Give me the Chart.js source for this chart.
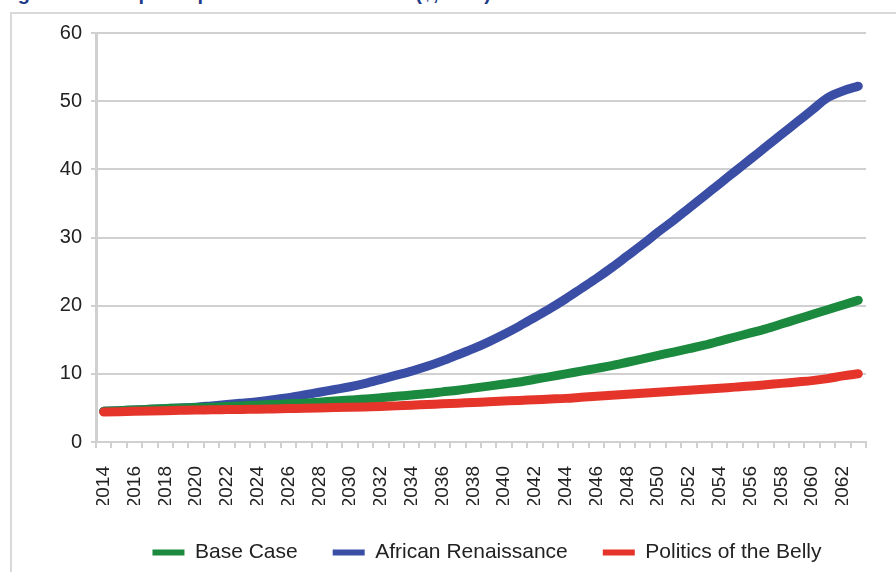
<!DOCTYPE html>
<html>
<head>
<meta charset="utf-8">
<script src="https://cdn.jsdelivr.net/npm/chart.js@4.4.0/dist/chart.umd.min.js"></script>
<style>
  html, body { margin: 0; padding: 0; background: #fff; overflow: hidden; }
  #page { position: relative; width: 896px; height: 572px; overflow: hidden; }
  #title {
    position: absolute; left: 0; top: -17px; white-space: nowrap;
    font: bold 20px/20px "Liberation Sans", Arial, sans-serif; color: #1f3c88;
  }
  #frame {
    position: absolute; left: 10px; top: 12px; width: 920px; height: 600px;
    border: 2px solid #d9d9d9;
  }
  #chart { position: absolute; left: 0; top: 0; }
</style>
</head>
<body>
<div id="page">
  <div id="title">Figure 9: GDP per capita in three scenarios ($, PPP)</div>
  <div id="frame"></div>
  <canvas id="chart" width="964" height="572"></canvas>
</div>
<script>
// years 2014..2063
var years = [];
for (var y = 2014; y <= 2063; y++) years.push(String(y));

var baseCase = [4.5, 4.6, 4.7, 4.8, 4.9, 5.0, 5.05, 5.1, 5.2, 5.3,
  5.4, 5.5, 5.6, 5.7, 5.85, 6.0, 6.15, 6.3, 6.5, 6.7,
  6.9, 7.1, 7.35, 7.6, 7.9, 8.2, 8.5, 8.8, 9.2, 9.6,
  10.0, 10.4, 10.8, 11.2, 11.7, 12.2, 12.7, 13.2, 13.7, 14.2,
  14.8, 15.4, 16.0, 16.6, 17.3, 18.0, 18.7, 19.4, 20.1, 20.8];

var africanRenaissance = [4.5, 4.6, 4.7, 4.8, 4.9, 5.0, 5.1, 5.3, 5.5, 5.7,
  5.9, 6.2, 6.5, 6.9, 7.3, 7.7, 8.1, 8.6, 9.2, 9.8,
  10.4, 11.1, 11.9, 12.8, 13.7, 14.7, 15.8, 17.0, 18.3, 19.6,
  21.0, 22.5, 24.0, 25.6, 27.3, 29.0, 30.8, 32.5, 34.3, 36.1,
  37.9, 39.7, 41.5, 43.3, 45.1, 46.9, 48.7, 50.5, 51.5, 52.2];

var politicsBelly = [4.4, 4.45, 4.5, 4.55, 4.6, 4.65, 4.7, 4.72, 4.75, 4.78,
  4.8, 4.85, 4.9, 4.95, 5.0, 5.05, 5.1, 5.15, 5.2, 5.3,
  5.4, 5.5, 5.6, 5.7, 5.8, 5.9, 6.0, 6.1, 6.2, 6.3,
  6.4, 6.55, 6.7, 6.85, 7.0, 7.15, 7.3, 7.45, 7.6, 7.75,
  7.9, 8.05, 8.2, 8.4, 8.6, 8.8, 9.0, 9.3, 9.7, 10.0];

var yTicks = [0, 10, 20, 30, 40, 50, 60];

var fontFamily = '"Liberation Sans", Arial, sans-serif';
var gridGrey = '#d0d0d0';

function series(label, data, color, order) {
    return {
        label: label,
        data: data,
        borderColor: color,
        backgroundColor: color,
        borderWidth: 9,
        borderCapStyle: 'round',
        borderJoinStyle: 'round',
        pointRadius: 0,
        tension: 0.4,
        cubicInterpolationMode: 'monotone',
        order: order
    };
}

// nudge the legend right, it sits off-centre in the original
var legendShift = {
    id: 'legendShift',
    afterLayout: function (chart) {
        chart.legend.left += 54;
        chart.legend.right += 54;
        chart.legend.top += 2;
        chart.legend.bottom += 2;
    }
};

new Chart(document.getElementById('chart'), {
    type: 'line',
    data: {
        labels: years,
        datasets: [
            series('Base Case', baseCase, '#1b8a3e', 1),
            series('African Renaissance', africanRenaissance, '#3a4ea6', 2),
            series('Politics of the Belly', politicsBelly, '#e5352a', 0)
        ]
    },
    plugins: [legendShift],
    options: {
        responsive: false,
        animation: false,
        layout: { padding: { left: 0, right: 98, top: 33, bottom: 1 } },
        plugins: {
            tooltip: { enabled: false },
            legend: {
                position: 'bottom',
                labels: {
                    boxWidth: 32,
                    boxHeight: 6,
                    padding: 35,
                    color: '#222',
                    font: { family: fontFamily, size: 21 },
                    sort: function (a, b) { return a.datasetIndex - b.datasetIndex; },
                    generateLabels: function (chart) {
                        return Chart.defaults.plugins.legend.labels.generateLabels(chart).map(function (l) {
                            l.lineWidth = 0;
                            return l;
                        });
                    }
                }
            }
        },
        scales: {
            x: {
                offset: true,
                afterFit: function (scale) { scale.height = 63; },
                grid: {
                    display: true,
                    offset: true,
                    drawOnChartArea: false,
                    drawTicks: true,
                    tickLength: 6,
                    color: gridGrey,
                    lineWidth: 2
                },
                border: { color: gridGrey, width: 2 },
                ticks: {
                    autoSkip: false,
                    maxRotation: 90,
                    minRotation: 90,
                    padding: 18,
                    color: '#222',
                    font: { family: fontFamily, size: 19 },
                    callback: function (v, i) {
                        var yr = years[i];
                        return (Number(yr) % 2 === 0) ? yr : '';
                    }
                }
            },
            y: {
                min: 0,
                max: 60,
                afterFit: function (scale) { scale.width = 96; },
                afterBuildTicks: function (scale) {
                    scale.ticks = yTicks.map(function (v) { return { value: v }; });
                },
                grid: {
                    color: gridGrey,
                    lineWidth: 2,
                    drawTicks: true,
                    tickLength: 5
                },
                border: { color: gridGrey, width: 3 },
                ticks: {
                    padding: 9,
                    color: '#222',
                    font: { family: fontFamily, size: 20 }
                }
            }
        }
    }
});
</script>
</body>
</html>
